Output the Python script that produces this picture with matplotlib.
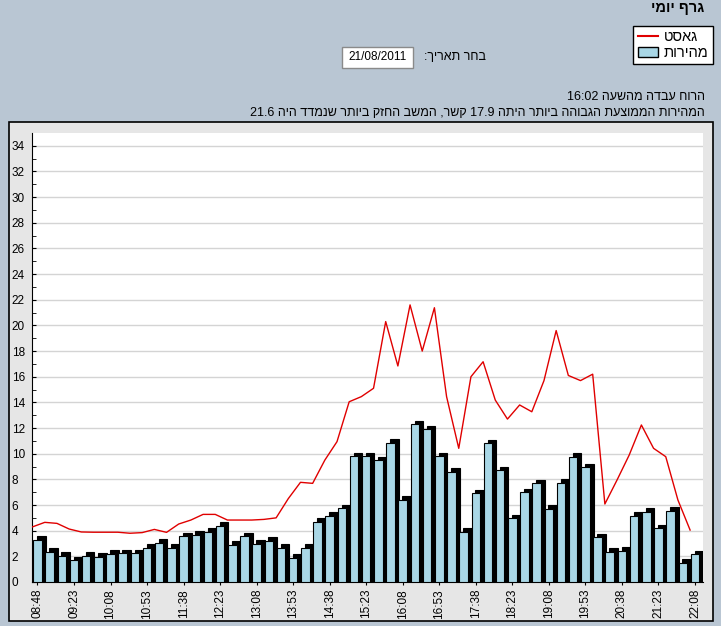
import re
import matplotlib
matplotlib.use("Agg")
import matplotlib.pyplot as plt
from matplotlib.patches import Rectangle, Patch
from matplotlib.lines import Line2D
import numpy as np

plt.rcParams['font.family'] = ['Liberation Sans', 'DejaVu Sans']

# data (knots)
speed = [3.3, 2.35, 2.05, 1.7, 2.05, 1.95, 2.2, 2.25, 2.25, 2.65,
         3.05, 2.65, 3.55, 3.7, 3.9, 4.4, 2.9, 3.55, 3.0, 3.2,
         2.65, 1.9, 2.65, 4.7, 5.15, 5.75, 9.8, 9.8, 9.5, 10.85,
         6.4, 12.3, 11.9, 9.8, 8.6, 3.9, 6.9, 10.8, 8.7, 4.95,
         7.0, 7.7, 5.7, 7.75, 9.75, 8.95, 3.5, 2.35, 2.45, 5.15,
         5.45, 4.2, 5.55, 1.5, 2.15]
gust = [4.3, 4.65, 4.57, 4.13, 3.9, 3.88, 3.88, 3.88, 3.8, 3.85,
        4.1, 3.87, 4.52, 4.83, 5.27, 5.27, 4.83, 4.83, 4.83, 4.88,
        5.0, 6.5, 7.77, 7.69, 9.5, 10.94, 14.05, 14.45, 15.1, 20.3,
        16.84, 21.6, 18.0, 21.38, 14.45, 10.42, 16.0, 17.17, 14.18, 12.7,
        13.8, 13.27, 15.7, 19.6, 16.1, 15.7, 16.2, 6.08, 7.95, 9.9,
        12.24, 10.42, 9.77, 6.39, 4.05]
tick_labels = ['08:48', '09:23', '10:08', '10:53', '11:38', '12:23', '13:08',
               '13:53', '14:38', '15:23', '16:08', '16:53', '17:38', '18:23',
               '19:08', '19:53', '20:38', '21:23', '22:08']

title = 'גרף יומי'
date_label = 'בחר תאריך:'
date_value = '21/08/2011'
info1 = 'הרוח עבדה מהשעה 16:02'
info2 = 'המהירות הממוצעת הגבוהה ביותר היתה 17.9 קשר, המשב החזק ביותר שנמדד היה 21.6'
gust_name = 'גאסט'
speed_name = 'מהירות'


def rtl(s):
    # crude visual ordering for Hebrew: flip everything, then flip numbers back
    r = s[::-1]
    return re.sub(r'[0-9][0-9.:/]*[0-9]|[0-9]', lambda m: m.group(0)[::-1], r)


W, H = 721, 626
fig = plt.figure(figsize=(W / 100, H / 100), dpi=100)
fig.patch.set_facecolor('#b9c6d3')


def fx(px):
    return px / W


def fy(py):
    return 1 - py / H


# grey chart panel
fig.add_artist(Rectangle((fx(9), fy(621)), fx(704), 499 / H, transform=fig.transFigure,
                         facecolor='#e6e6e6', edgecolor='black', lw=1.2, zorder=0))
# date box
fig.add_artist(Rectangle((fx(342), fy(68)), fx(71), 21 / H, transform=fig.transFigure,
                         facecolor='white', edgecolor='#8a8a8a', lw=1, zorder=1))
fig.text(fx(377.5), fy(57.5), date_value, ha='center', va='center', fontsize=8.5)
fig.text(fx(486), fy(57.5), rtl(date_label), ha='right', va='center', fontsize=9)

fig.text(fx(704), fy(8), rtl(title), ha='right', va='center', fontsize=10.5, fontweight='bold')
fig.text(fx(705), fy(97), rtl(info1), ha='right', va='center', fontsize=9)
fig.text(fx(705), fy(113), rtl(info2), ha='right', va='center', fontsize=9)

ax = fig.add_axes([fx(32), 1 - 582 / H, fx(703 - 32), (582 - 133) / H])
ax.set_facecolor('white')

x = np.arange(len(speed))
bw = 0.7
dx, dy = 0.32, 0.28
# 3D-ish bars: black depth block behind, light blue face in front
ax.bar(x + dx, np.array(speed) + dy, width=bw, color='black', edgecolor='black', lw=0.8, zorder=3)
ax.bar(x, speed, width=bw, color='#a9d7e6', edgecolor='black', lw=0.8, zorder=4)
ax.plot(x - 0.4, gust, color='#e00000', lw=1, zorder=5)

ax.set_xlim(-0.45, len(speed) - 1 + 0.66)
ax.set_ylim(0, 35)
ax.set_yticks(np.arange(0, 35, 2))
ax.set_yticks(np.arange(1, 35, 2), minor=True)
ax.grid(axis='y', color='#d4d4d4', lw=1, zorder=1)
ax.set_axisbelow(True)

ax.set_xticks(x[::3])
ax.set_xticklabels(tick_labels, rotation=90, fontsize=8.5)
ax.tick_params(axis='x', length=2, pad=3, color='black')
ax.tick_params(axis='y', which='both', direction='in', length=3, labelsize=8.5)
for lab in ax.get_yticklabels():
    lab.set_horizontalalignment('left')
ax.yaxis.set_tick_params(pad=14.5)

for s in ['top', 'right']:
    ax.spines[s].set_visible(False)
ax.spines['left'].set_color('black')
ax.spines['bottom'].set_color('black')

handles = [Line2D([0], [0], color='#e00000', lw=1.5),
           Patch(facecolor='#a9d7e6', edgecolor='black')]
leg = fig.legend(handles, [rtl(gust_name), rtl(speed_name)], loc='upper right',
                 bbox_to_anchor=(fx(713), fy(26)), fontsize=10.5, fancybox=False,
                 framealpha=1, edgecolor='black', handlelength=1.4, handletextpad=0.4,
                 borderpad=0.3, labelspacing=0.1, borderaxespad=0)
leg.get_frame().set_linewidth(1)

fig.savefig('out.png', dpi=100, facecolor=fig.get_facecolor())
